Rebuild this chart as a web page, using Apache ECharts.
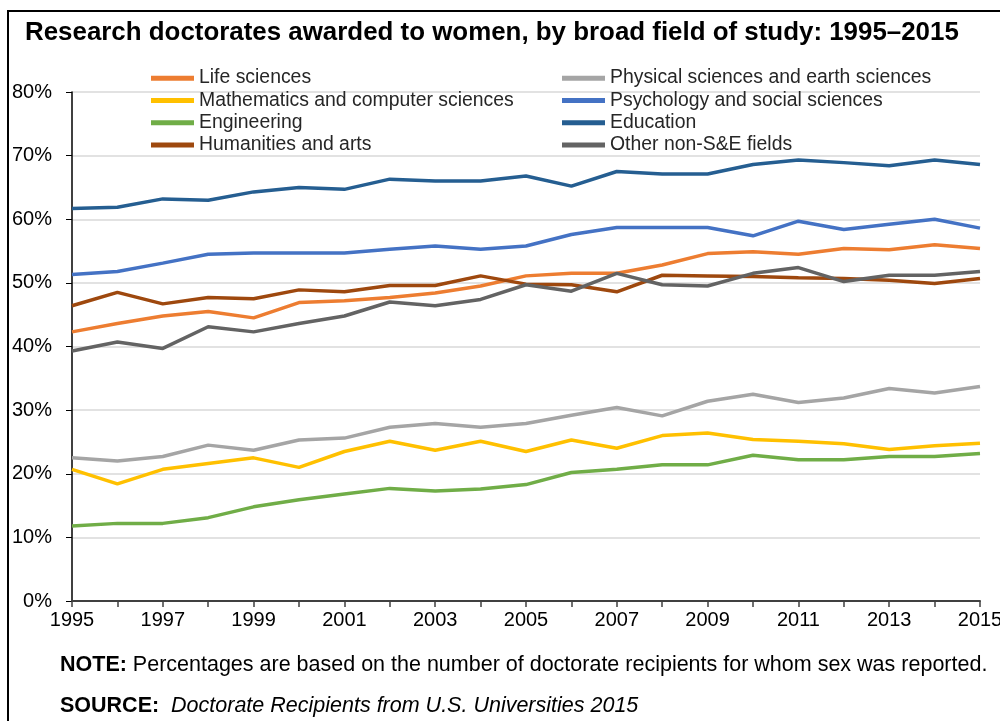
<!DOCTYPE html>
<html>
<head>
<meta charset="utf-8">
<script src="https://cdn.jsdelivr.net/npm/echarts@6/dist/echarts.min.js"></script>
<style>
  html, body { margin: 0; padding: 0; background: #fff; }
  #main { width: 1000px; height: 721px; }
</style>
</head>
<body>
<div id="main"></div>
<script>
// years on the x axis
const years = ['1995', '1996', '1997', '1998', '1999', '2000', '2001', '2002', '2003', '2004', '2005',
  '2006', '2007', '2008', '2009', '2010', '2011', '2012', '2013', '2014', '2015']

// percent of doctorates awarded to women
const lifeSci = [42.3, 43.6, 44.8, 45.5, 44.5, 46.9, 47.2, 47.7, 48.4, 49.5, 51.1, 51.5, 51.5, 52.8, 54.6, 54.9, 54.5, 55.4, 55.2, 56.0, 55.4]
const physSci = [22.5, 22.0, 22.7, 24.5, 23.7, 25.3, 25.6, 27.3, 27.9, 27.3, 27.9, 29.2, 30.4, 29.1, 31.4, 32.5, 31.2, 31.9, 33.4, 32.7, 33.7]
const mathCs = [20.7, 18.4, 20.7, 21.6, 22.5, 21.0, 23.5, 25.1, 23.7, 25.1, 23.5, 25.3, 24.0, 26.0, 26.4, 25.4, 25.1, 24.7, 23.8, 24.4, 24.8]
const psychSoc = [51.3, 51.8, 53.1, 54.5, 54.7, 54.7, 54.7, 55.3, 55.8, 55.3, 55.8, 57.6, 58.7, 58.7, 58.7, 57.4, 59.7, 58.4, 59.2, 60.0, 58.6]
const engineering = [11.8, 12.2, 12.2, 13.1, 14.8, 15.9, 16.8, 17.7, 17.3, 17.6, 18.3, 20.2, 20.7, 21.4, 21.4, 22.9, 22.2, 22.2, 22.7, 22.7, 23.2]
const education = [61.7, 61.9, 63.2, 63.0, 64.3, 65.0, 64.7, 66.3, 66.0, 66.0, 66.8, 65.2, 67.5, 67.1, 67.1, 68.6, 69.3, 68.9, 68.4, 69.3, 68.6]
const humanities = [46.4, 48.5, 46.7, 47.7, 47.5, 48.9, 48.6, 49.6, 49.6, 51.1, 49.8, 49.7, 48.6, 51.2, 51.1, 51.0, 50.8, 50.7, 50.4, 49.9, 50.7]
const otherNonSE = [39.3, 40.7, 39.7, 43.1, 42.3, 43.6, 44.8, 47.0, 46.4, 47.4, 49.7, 48.7, 51.5, 49.7, 49.5, 51.5, 52.4, 50.2, 51.2, 51.2, 51.8]

const leftNames = ['Life sciences', 'Mathematics and computer sciences', 'Engineering', 'Humanities and arts']
const rightNames = ['Physical sciences and earth sciences', 'Psychology and social sciences', 'Education', 'Other non-S&E fields']

const seriesList = [
  { name: 'Life sciences', data: lifeSci, color: '#ED7D31' },
  { name: 'Physical sciences and earth sciences', data: physSci, color: '#A5A5A5' },
  { name: 'Mathematics and computer sciences', data: mathCs, color: '#FFC000' },
  { name: 'Psychology and social sciences', data: psychSoc, color: '#4472C4' },
  { name: 'Engineering', data: engineering, color: '#70AD47' },
  { name: 'Education', data: education, color: '#255E91' },
  { name: 'Humanities and arts', data: humanities, color: '#9E480E' },
  { name: 'Other non-S&E fields', data: otherNonSE, color: '#636363' }
]

const font = 'Arial, "Liberation Sans", sans-serif'

function legendAt (left, names) {
  return {
    orient: 'vertical',
    left: left,
    top: 62,
    data: names,
    icon: 'rect',
    itemWidth: 43,
    itemHeight: 5,
    itemGap: 0,
    textStyle: { fontFamily: font, fontSize: 19.4, color: '#262626', lineHeight: 22.3 }
  }
}

const chart = echarts.init(document.getElementById('main'))
chart.setOption({
  animation: false,
  backgroundColor: '#fff',
  title: [
    {
      text: 'Research doctorates awarded to women, by broad field of study: 1995–2015',
      left: 20,
      top: 15,
      textStyle: { fontFamily: font, fontSize: 25.9, fontWeight: 'bold', color: '#000' }
    },
    {
      text: '{b|NOTE:} Percentages are based on the number of doctorate recipients for whom sex was reported.',
      left: 55,
      top: 649,
      textStyle: {
        fontFamily: font, fontSize: 21.5, fontWeight: 'normal', color: '#000',
        rich: { b: { fontFamily: font, fontSize: 21.5, fontWeight: 'bold', color: '#000' } }
      }
    },
    {
      text: '{b|SOURCE:}  {i|Doctorate Recipients from U.S. Universities 2015}',
      left: 55,
      top: 690,
      textStyle: {
        fontFamily: font, fontSize: 21.5, fontWeight: 'normal', color: '#000',
        rich: {
          b: { fontFamily: font, fontSize: 21.5, fontWeight: 'bold', color: '#000' },
          i: { fontFamily: font, fontSize: 21.5, fontWeight: 'normal', fontStyle: 'italic', color: '#000' }
        }
      }
    }
  ],
  legend: [legendAt(146, leftNames), legendAt(557, rightNames)],
  grid: { left: 72, right: 20, top: 92, bottom: 120, outerBoundsMode: 'none' },
  xAxis: {
    type: 'category',
    data: years,
    boundaryGap: false,
    axisLine: { lineStyle: { color: '#404040', width: 2 } },
    axisTick: { show: true, interval: 0, length: 6, lineStyle: { color: '#404040', width: 1.5 } },
    axisLabel: { interval: 1, fontFamily: font, fontSize: 20, color: '#000', margin: 9 },
    splitLine: { show: false }
  },
  yAxis: {
    type: 'value',
    min: 0,
    max: 80,
    interval: 10,
    axisLine: { show: true, lineStyle: { color: '#000', width: 1.5 } },
    axisTick: { show: true, length: 6, lineStyle: { color: '#000' } },
    axisLabel: { formatter: '{value}%', fontFamily: font, fontSize: 20, color: '#000', margin: 20 },
    splitLine: { lineStyle: { color: '#D9D9D9', width: 1.5 } }
  },
  graphic: [
    {
      type: 'rect',
      shape: { x: 8, y: 11, width: 1010, height: 730 },
      style: { fill: null, stroke: '#000', lineWidth: 2 },
      silent: true
    }
  ],
  series: seriesList.map(s => ({
    name: s.name,
    type: 'line',
    data: s.data,
    symbol: 'none',
    color: s.color,
    lineStyle: { width: 3.5, color: s.color }
  }))
})
</script>
</body>
</html>
